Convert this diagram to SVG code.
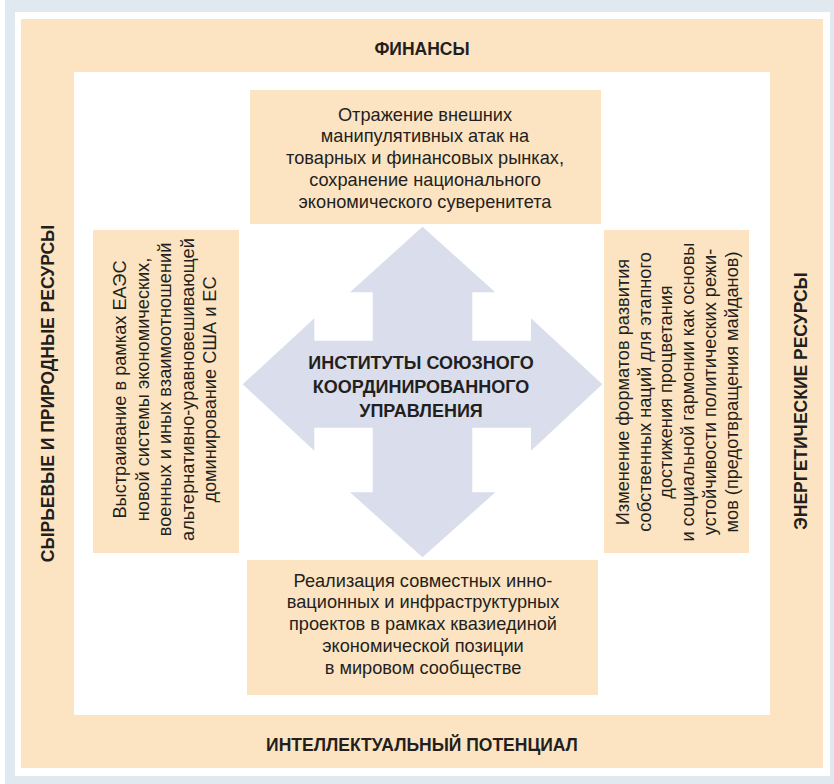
<svg xmlns="http://www.w3.org/2000/svg" width="834" height="784" viewBox="0 0 834 784">
<style>
.peach{fill:#fce4c2}
.t{font-family:"Liberation Sans",Arial,sans-serif;font-size:18.2px;fill:#231f20;text-anchor:middle}
.b{font-family:"Liberation Sans",Arial,sans-serif;font-size:17.5px;font-weight:bold;fill:#231f20;text-anchor:middle}
.c{font-family:"Liberation Sans",Arial,sans-serif;font-size:18px;font-weight:bold;fill:#231f20;text-anchor:middle}
</style>
<rect x="0" y="0" width="834" height="784" fill="#ffffff"/>
<rect x="5" y="0" width="829" height="784" fill="#e0e8f0"/>
<rect x="15" y="12" width="815" height="764" fill="#ffffff"/>
<g id="frame">
<rect class="peach" x="21" y="19" width="802" height="749"/>
<rect x="74" y="72" width="696" height="643" fill="#ffffff"/>
</g>
<g id="label-finance"><text class="b" x="422" y="54.5">ФИНАНСЫ</text></g>
<g id="label-intellect"><text class="b" x="422" y="751">ИНТЕЛЛЕКТУАЛЬНЫЙ ПОТЕНЦИАЛ</text></g>
<g id="label-raw"><text class="b" transform="translate(53.5,393.5) rotate(-90)">СЫРЬЕВЫЕ И ПРИРОДНЫЕ РЕСУРСЫ</text></g>
<g id="label-energy"><text class="b" transform="translate(806.5,401) rotate(-90)">ЭНЕРГЕТИЧЕСКИЕ РЕСУРСЫ</text></g>
<g id="connectors"></g>
<g id="center">
<polygon fill="#d9ddec" points="422.5,226.7 495.3,292.3 472.3,292.3 472.3,340.7 531,340.7 531,318.3 602.3,384.3 531,450.7 531,427.7 472.3,427.7 472.3,492.3 495.3,492.3 422.5,557.3 350,492.3 372.7,492.3 372.7,427.7 314.3,427.7 314.3,450.7 242.7,384.3 314.3,318.3 314.3,340.7 372.7,340.7 372.7,292.3 350,292.3"/>
<text class="c" x="421" y="368.7">ИНСТИТУТЫ СОЮЗНОГО</text>
<text class="c" x="421" y="392.7">КООРДИНИРОВАННОГО</text>
<text class="c" x="421" y="416.7">УПРАВЛЕНИЯ</text>
</g>
<g id="box-top">
<rect class="peach" x="250" y="90" width="351" height="134"/>
<text class="t" x="425" y="120.5">Отражение внешних</text>
<text class="t" x="425" y="142.4">манипулятивных атак на</text>
<text class="t" x="425" y="164.3">товарных и финансовых рынках,</text>
<text class="t" x="425" y="186.2">сохранение национального</text>
<text class="t" x="425" y="208.1">экономического суверенитета</text>
</g>
<g id="box-left">
<rect class="peach" x="93" y="230" width="146" height="323"/>
<g transform="translate(0,389.5) rotate(-90)">
<text class="t" x="0" y="126">Выстраивание в рамках ЕАЭС</text>
<text class="t" x="0" y="148.5">новой системы экономических,</text>
<text class="t" x="0" y="171">военных и иных взаимоотношений</text>
<text class="t" x="0" y="193.5">альтернативно-уравновешивающей</text>
<text class="t" x="0" y="216">доминирование США и ЕС</text>
</g>
</g>
<g id="box-right">
<rect class="peach" x="604" y="230" width="145" height="323"/>
<g transform="translate(0,392) rotate(-90)">
<text class="t" x="0" y="629">Изменение форматов развития</text>
<text class="t" x="0" y="650.7">собственных наций для этапного</text>
<text class="t" x="0" y="672.4">достижения процветания</text>
<text class="t" x="0" y="694.1">и социальной гармонии как основы</text>
<text class="t" x="0" y="715.8">устойчивости политических режи-</text>
<text class="t" x="0" y="737.5">мов (предотвращения майданов)</text>
</g>
</g>
<g id="box-bottom">
<rect class="peach" x="247" y="560" width="351" height="135"/>
<text class="t" x="423" y="586.5">Реализация совместных инно-</text>
<text class="t" x="423" y="608.3">вационных и инфраструктурных</text>
<text class="t" x="423" y="630">проектов в рамках квазиединой</text>
<text class="t" x="423" y="651.8">экономической позиции</text>
<text class="t" x="423" y="673.6">в мировом сообществе</text>
</g>
</svg>
